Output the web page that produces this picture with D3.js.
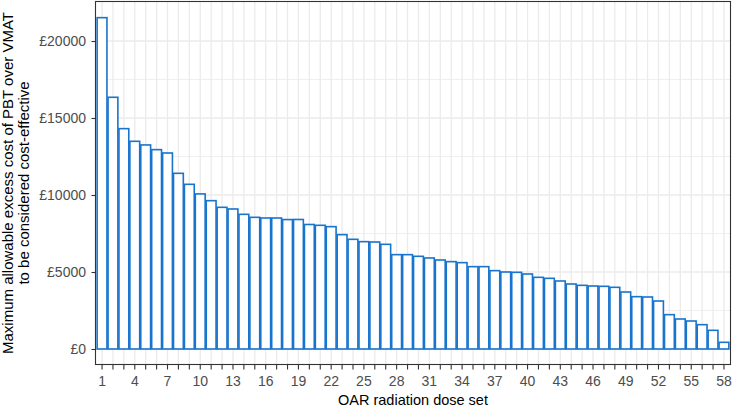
<!DOCTYPE html>
<html>
<head>
<meta charset="utf-8">
<script src="https://cdn.jsdelivr.net/npm/d3@7"></script>
<style>
  html, body { margin: 0; padding: 0; background: #fff; }
  svg { display: block; font-family: "Liberation Sans", Arial, sans-serif; }
</style>
</head>
<body>
<svg id="chart" width="733" height="408"></svg>
<script>
// ---- data ----
const categories = d3.range(1, 59).map(String);
const values = [
  21515, 16345, 14308, 13486, 13250, 12945, 12728, 11408, 10694, 10070,
  9632, 9200, 9092, 8745, 8550, 8507, 8507, 8405, 8410, 8085,
  8031, 7945, 7425, 7122, 6970, 6949, 6797, 6126, 6126, 6018,
  5910, 5780, 5672, 5607, 5347, 5347, 5087, 5000, 4979, 4870,
  4654, 4589, 4416, 4221, 4134, 4091, 4070, 4005, 3701, 3398,
  3377, 3117, 2229, 1948, 1818, 1580, 1212, 433
];
const yTicks = [0, 5000, 10000, 15000, 20000];
const yMinor = [2500, 7500, 12500, 17500];
const xTickLabels = categories.filter((d, i) => i % 3 === 0);
const yTitleLines = ["Maximum allowable excess cost of PBT over VMAT", "to be considered cost-effective"];
const xTitle = "OAR radiation dose set";

// ---- layout ----
const svg = d3.select("#chart");
const panel = { left: 95.5, right: 730.5, top: 1.5, bottom: 364.5 };

const x = d3.scaleBand()
  .domain(categories)
  .range([panel.left, panel.right])
  .paddingInner(0.1)
  .paddingOuter(0.15);

const y = d3.scaleLinear().domain([0, 20000]).range([349, 41]);

// background
svg.append("rect").attr("x", panel.left).attr("y", panel.top)
  .attr("width", panel.right - panel.left).attr("height", panel.bottom - panel.top)
  .attr("fill", "#fff");

// minor grid
svg.append("g").selectAll("line").data(yMinor).join("line")
  .attr("x1", panel.left).attr("x2", panel.right)
  .attr("y1", d => y(d)).attr("y2", d => y(d))
  .attr("stroke", "#EBEBEB").attr("stroke-width", 0.8);

// major grid
svg.append("g").selectAll("line").data(yTicks).join("line")
  .attr("x1", panel.left).attr("x2", panel.right)
  .attr("y1", d => y(d)).attr("y2", d => y(d))
  .attr("stroke", "#EBEBEB").attr("stroke-width", 1.3);

svg.append("g").selectAll("line").data(categories).join("line")
  .attr("x1", d => x(d) + x.bandwidth() / 2).attr("x2", d => x(d) + x.bandwidth() / 2)
  .attr("y1", panel.top).attr("y2", panel.bottom)
  .attr("stroke", "#EBEBEB").attr("stroke-width", 1.3);

// bars
svg.append("g").selectAll("rect").data(values).join("rect")
  .attr("x", (d, i) => x(categories[i]))
  .attr("width", x.bandwidth())
  .attr("y", d => y(d))
  .attr("height", d => y(0) - y(d))
  .attr("fill", "#fff")
  .attr("stroke", "#1874CD")
  .attr("stroke-width", 1.6);

// panel border
svg.append("rect").attr("x", panel.left).attr("y", panel.top)
  .attr("width", panel.right - panel.left).attr("height", panel.bottom - panel.top)
  .attr("fill", "none").attr("stroke", "#333333").attr("stroke-width", 1.1);

// x axis
const xAxis = d3.axisBottom(x)
  .tickSizeInner(5).tickSizeOuter(0).tickPadding(7)
  .tickFormat(d => xTickLabels.includes(d) ? d : "");
const gx = svg.append("g").attr("transform", `translate(0,${panel.bottom})`).call(xAxis);
gx.select(".domain").remove();
gx.selectAll(".tick line").attr("stroke", "#333333").attr("stroke-width", 1.1);
gx.selectAll(".tick text").attr("fill", "#4D4D4D").attr("font-size", "14px")
  .attr("font-family", "Liberation Sans, Arial, sans-serif");

// y axis
const yAxis = d3.axisLeft(y)
  .tickValues(yTicks).tickSizeInner(4).tickSizeOuter(0).tickPadding(5.5)
  .tickFormat(d => "£" + d);
const gy = svg.append("g").attr("transform", `translate(${panel.left},0)`).call(yAxis);
gy.select(".domain").remove();
gy.selectAll(".tick line").attr("stroke", "#333333").attr("stroke-width", 1.1);
gy.selectAll(".tick text").attr("fill", "#4D4D4D").attr("font-size", "14px")
  .attr("font-family", "Liberation Sans, Arial, sans-serif");

// x title
svg.append("text")
  .attr("x", (panel.left + panel.right) / 2).attr("y", 405)
  .attr("text-anchor", "middle").attr("font-size", "14.5px").attr("fill", "#000")
  .text(xTitle);

// y title
const yt = svg.append("text")
  .attr("transform", `translate(0,183) rotate(-90)`)
  .attr("text-anchor", "middle").attr("font-size", "15px").attr("fill", "#000");
yTitleLines.forEach((t, i) => {
  yt.append("tspan").attr("x", 0).attr("y", 12.7 + i * 16.3).text(t);
});
</script>
</body>
</html>
